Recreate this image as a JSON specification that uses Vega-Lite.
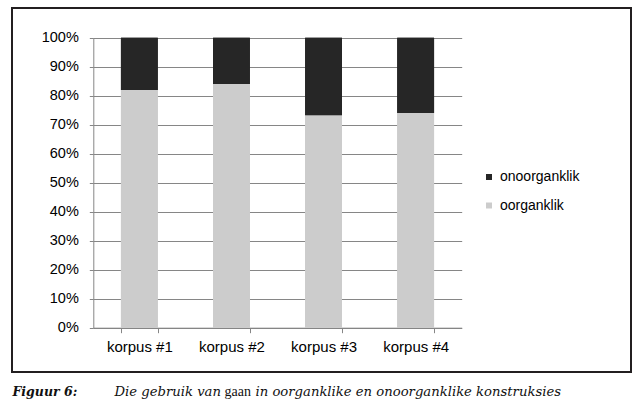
{
  "$schema": "https://vega.github.io/schema/vega-lite/v6.json",
  "width": 619,
  "height": 364,
  "autosize": {"type": "none"},
  "padding": {"left": 12, "top": 8, "right": 12, "bottom": 33},
  "background": "white",
  "config": {
    "view": {"stroke": "#231f20", "strokeWidth": 2},
    "font": "Liberation Sans",
    "axis": {"labelFont": "Liberation Sans", "labelColor": "#000000", "domainColor": "#868686", "tickColor": "#868686", "gridColor": "#868686", "gridOpacity": 1, "domainWidth": 1, "tickWidth": 1, "gridWidth": 1}
  },
  "data": {
    "values": [
      {"korpus": "korpus #1", "type": "oorganklik", "value": 82},
      {"korpus": "korpus #1", "type": "onoorganklik", "value": 18},
      {"korpus": "korpus #2", "type": "oorganklik", "value": 84},
      {"korpus": "korpus #2", "type": "onoorganklik", "value": 16},
      {"korpus": "korpus #3", "type": "oorganklik", "value": 73.3},
      {"korpus": "korpus #3", "type": "onoorganklik", "value": 26.7},
      {"korpus": "korpus #4", "type": "oorganklik", "value": 74},
      {"korpus": "korpus #4", "type": "onoorganklik", "value": 26}
    ]
  },
  "layer": [
    {
      "mark": {"type": "bar"},
      "encoding": {
        "x": {
          "field": "korpus", "type": "nominal",
          "scale": {"range": [81.3, 449.7], "paddingInner": 0.6, "paddingOuter": 0.3},
          "axis": {
            "orient": "bottom", "offset": -44.3, "labelAngle": 0, "labelFontSize": 15, "labelPadding": 6.5,
            "tickBand": "extent", "tickSize": 5, "grid": false,
            "title": "Die gebruik van", "titleX": 102, "titleY": 67.3, "titleAlign": "left", "titleBaseline": "alphabetic", "titleAnchor": null,
            "titleFont": "DejaVu Serif", "titleFontStyle": "italic", "titleFontWeight": "normal", "titleFontSize": 13.2, "titleColor": "#111111"
          }
        },
        "y": {
          "field": "value", "type": "quantitative", "stack": "zero",
          "scale": {"domain": [0, 100], "range": [319.7, 29.7], "nice": false},
          "axis": {
            "orient": "left", "offset": -81.3, "values": [0, 10, 20, 30, 40, 50, 60, 70, 80, 90, 100],
            "labelExpr": "datum.value + '%'", "labelFontSize": 14.5, "labelPadding": 11, "tickSize": 4, "grid": true,
            "title": "gaan", "titleAngle": 0, "titleX": 130.7, "titleY": 387, "titleAlign": "left", "titleBaseline": "alphabetic", "titleAnchor": null,
            "titleFont": "Liberation Serif", "titleFontStyle": "normal", "titleFontWeight": "normal", "titleFontSize": 14, "titleColor": "#111111"
          }
        },
        "color": {
          "field": "type", "type": "nominal",
          "scale": {"domain": ["onoorganklik", "oorganklik"], "range": ["#262626", "#cccccc"]},
          "legend": {"orient": "none", "legendX": 470, "legendY": 162, "title": null, "symbolType": "square", "symbolSize": 36, "symbolStrokeWidth": 0, "labelFontSize": 14, "labelFont": "Liberation Sans", "labelColor": "#000000", "labelOffset": 4, "rowPadding": 14.5, "padding": 0}
        },
        "order": {"field": "type", "sort": "descending"}
      }
    },
    {
      "mark": {"type": "bar"},
      "encoding": {
        "x": {
          "field": "korpus", "type": "nominal",
          "axis": {
            "orient": "top", "labels": false, "ticks": false, "domain": false, "grid": false,
            "title": "Figuur 6:", "titleX": 0, "titleY": 387, "titleAlign": "left", "titleBaseline": "alphabetic", "titleAnchor": null,
            "titleFont": "DejaVu Serif", "titleFontStyle": "italic", "titleFontWeight": "bold", "titleFontSize": 12.5, "titleColor": "#111111"
          }
        },
        "y": {
          "field": "value", "type": "quantitative", "stack": "zero",
          "axis": {
            "orient": "right", "labels": false, "ticks": false, "domain": false, "grid": false,
            "title": "in oorganklike en onoorganklike konstruksies", "titleAngle": 0, "titleX": -376, "titleY": 387, "titleAlign": "left", "titleBaseline": "alphabetic", "titleAnchor": null,
            "titleFont": "DejaVu Serif", "titleFontStyle": "italic", "titleFontWeight": "normal", "titleFontSize": 13.2, "titleColor": "#111111"
          }
        },
        "color": {"field": "type", "type": "nominal"},
        "order": {"field": "type", "sort": "descending"}
      }
    }
  ],
  "resolve": {"axis": {"x": "independent", "y": "independent"}}
}
